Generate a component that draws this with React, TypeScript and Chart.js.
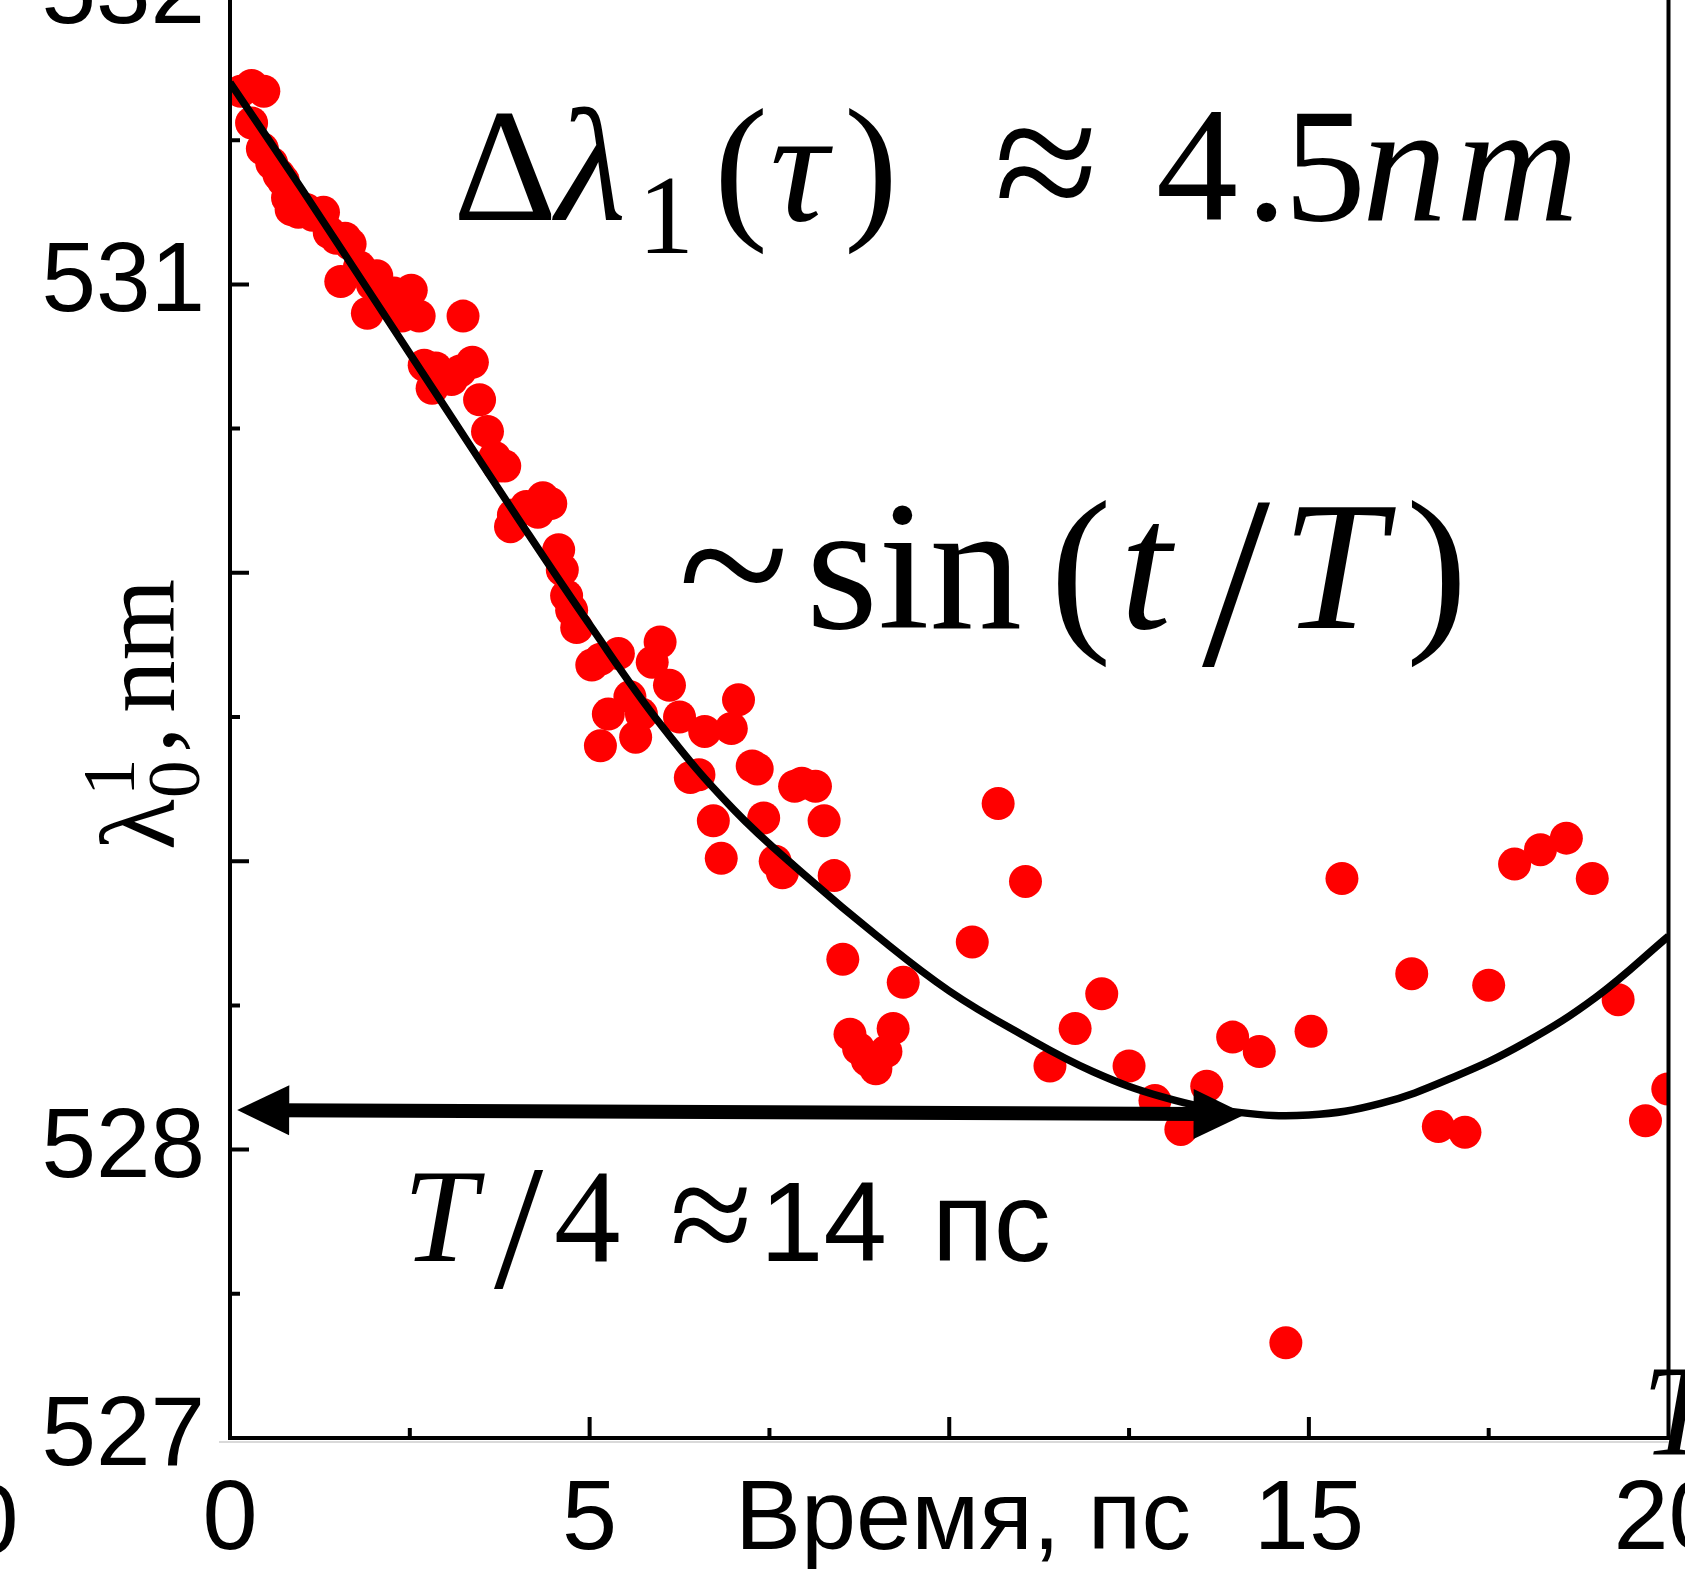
import React, { useEffect, useRef } from 'react';
import { Chart, registerables } from 'chart.js';

Chart.register(...registerables);

// ---- data ----
const timePs = [
  0.15, 0.30, 0.47, 0.30, 0.45, 0.58, 0.68, 0.74, 0.80, 0.85, 0.95, 1.06, 1.15, 1.30, 1.38, 1.48, 1.60, 1.67,
  1.54, 1.80, 1.91, 1.98, 2.04, 2.12, 2.20, 2.28, 2.39, 2.52, 2.63, 3.24, 2.70, 2.86, 2.95, 2.81, 3.08, 3.20,
  3.37, 3.47, 3.58, 3.68, 3.74, 3.82, 3.90, 3.94, 4.12, 4.28, 4.35, 4.46, 4.57, 4.62, 4.68, 4.75, 4.82,
  5.03, 5.15, 5.40, 5.98, 5.87, 6.11, 5.56, 5.26, 5.72, 5.15, 5.64, 6.25, 6.60, 6.97, 7.07, 6.40, 6.52,
  7.26, 7.33, 7.85, 7.95, 8.14, 6.72, 7.42, 8.26, 6.83, 7.58, 7.68, 8.40,
  8.52, 9.36, 10.32, 10.68, 11.06, 8.62, 8.74, 8.86, 8.98, 9.12, 9.22,
  11.40, 11.75, 12.12, 12.50, 12.86, 13.22, 13.58, 13.94, 14.31, 14.68, 15.03, 15.46, 16.43, 16.80,
  17.17, 17.50, 17.86, 18.22, 18.58, 18.94, 19.30, 19.68, 19.99,
];
const lambdaNm = [
  531.67, 531.69, 531.67, 531.56, 531.47, 531.42, 531.38, 531.36, 531.30, 531.26, 531.25, 531.26, 531.24, 531.25, 531.18, 531.16, 531.16, 531.14,
  531.01, 531.06, 530.90, 531.00, 531.03, 530.98, 530.95, 530.97, 530.89, 530.98, 530.89, 530.89, 530.72, 530.71, 530.68, 530.64, 530.67, 530.70,
  530.73, 530.60, 530.49, 530.40, 530.37, 530.37, 530.16, 530.20, 530.23, 530.21, 530.26, 530.24, 530.08, 530.01, 529.92, 529.87, 529.81,
  529.68, 529.70, 529.72, 529.76, 529.69, 529.61, 529.57, 529.51, 529.51, 529.40, 529.43, 529.50, 529.45, 529.46, 529.56, 529.29, 529.30,
  529.33, 529.32, 529.26, 529.27, 529.26, 529.14, 529.15, 529.14, 529.01, 529.00, 528.96, 528.95,
  528.66, 528.58, 528.72, 529.20, 528.93, 528.40, 528.35, 528.31, 528.28, 528.34, 528.42,
  528.29, 528.42, 528.54, 528.29, 528.17, 528.07, 528.22, 528.39, 528.34, 527.33, 528.41, 528.94, 528.61, 528.08,
  528.06, 528.57, 528.99, 529.04, 529.08, 528.94, 528.52, 528.10, 528.21,
];
const fitTime = [0, 1, 2, 3, 4, 5, 6, 7, 8, 9, 10, 11, 12, 13, 14, 15, 16, 17, 18, 19, 20];
const fitLambda = [
  531.70, 531.33, 530.95, 530.57, 530.19, 529.82, 529.47, 529.18, 528.95, 528.74, 528.55,
  528.40, 528.27, 528.18, 528.13, 528.12, 528.16, 528.25, 528.37, 528.53, 528.74,
];
const xTickLabels: Record<number, string> = { 0: '0', 5: '5', 10: ' Время, пс', 15: '15', 20: '20' };
const yTickLabels: Record<number, string> = { 527: '527', 528: '528', 531: '531', 532: '532' };
const xMajorTicks = [5, 10, 15];
const xMinorTicks = [2.5, 7.5, 12.5, 17.5];
const yMajorTicks = [528, 529, 530, 531];
const yMinorTicks = [527.5, 528.5, 529.5, 530.5, 531.5];
const arrowTime = [0.1, 14.12];
const arrowLambda = [528.137, 528.123];

// ---- layout ----
const W = 1685;
const H = 1640;
const OFF_Y = 64; // canvas top sits 64px above the page top
const SERIF = '"Liberation Serif", "DejaVu Serif", serif';
const SANS = '"Liberation Sans", Arial, sans-serif';

const decorPlugin = {
  id: 'decor',
  afterDatasetsDraw(chart: any) {
    const ctx: CanvasRenderingContext2D = chart.ctx;
    const xs = chart.scales.x;
    const ys = chart.scales.y;
    const a = chart.chartArea;
    ctx.save();
    ctx.fillStyle = '#000';
    ctx.lineCap = 'butt';

    // faint grey line under the bottom axis
    ctx.strokeStyle = '#d9d9d9';
    ctx.lineWidth = 2;
    ctx.beginPath();
    ctx.moveTo(219, a.bottom + 4);
    ctx.lineTo(a.right, a.bottom + 4);
    ctx.stroke();

    // axes frame
    ctx.strokeStyle = '#000';
    ctx.lineWidth = 4;
    ctx.beginPath();
    ctx.moveTo(a.left, 0);
    ctx.lineTo(a.left, a.bottom + 2);
    ctx.moveTo(a.left - 2, a.bottom);
    ctx.lineTo(a.right + 2, a.bottom);
    ctx.moveTo(a.right, 0);
    ctx.lineTo(a.right, a.bottom + 2);
    ctx.stroke();

    // ticks (inward)
    ctx.beginPath();
    for (const v of yMajorTicks) {
      const p = ys.getPixelForValue(v);
      ctx.moveTo(a.left, p);
      ctx.lineTo(a.left + 19, p);
    }
    for (const v of yMinorTicks) {
      const p = ys.getPixelForValue(v);
      ctx.moveTo(a.left, p);
      ctx.lineTo(a.left + 10, p);
    }
    for (const v of xMajorTicks) {
      const p = xs.getPixelForValue(v);
      ctx.moveTo(p, a.bottom);
      ctx.lineTo(p, a.bottom - 21);
    }
    for (const v of xMinorTicks) {
      const p = xs.getPixelForValue(v);
      ctx.moveTo(p, a.bottom);
      ctx.lineTo(p, a.bottom - 10);
    }
    ctx.stroke();

    // double-headed arrow
    const x1 = xs.getPixelForValue(arrowTime[0]);
    const y1 = ys.getPixelForValue(arrowLambda[0]);
    const x2 = xs.getPixelForValue(arrowTime[1]);
    const y2 = ys.getPixelForValue(arrowLambda[1]);
    const len = Math.hypot(x2 - x1, y2 - y1);
    const ux = (x2 - x1) / len;
    const uy = (y2 - y1) / len;
    const nx = -uy;
    const ny = ux;
    const L = 52;
    const HW = 25;
    ctx.lineWidth = 14;
    ctx.beginPath();
    ctx.moveTo(x1 + ux * L * 0.8, y1 + uy * L * 0.8);
    ctx.lineTo(x2 - ux * L * 0.8, y2 - uy * L * 0.8);
    ctx.stroke();
    const head = (tx: number, ty: number, dx: number, dy: number) => {
      ctx.beginPath();
      ctx.moveTo(tx, ty);
      ctx.lineTo(tx - dx * L + nx * HW, ty - dy * L + ny * HW);
      ctx.lineTo(tx - dx * L - nx * HW, ty - dy * L - ny * HW);
      ctx.closePath();
      ctx.fill();
    };
    head(x2, y2, ux, uy);
    head(x1, y1, -ux, -uy);

    // text helpers
    ctx.textBaseline = 'alphabetic';
    ctx.textAlign = 'left';
    const put = (t: string, font: string, x: number, y: number) => {
      ctx.font = font;
      ctx.fillText(t, x, y + OFF_Y);
    };

    // Δλ1(τ) ≈ 4.5nm
    put('Δ', `162px ${SERIF}`, 453, 220);
    put('λ', `italic 162px ${SERIF}`, 556, 220);
    put('1', `112px ${SERIF}`, 638, 253);
    put('(', `162px ${SERIF}`, 714, 220);
    put('τ', `italic 162px ${SERIF}`, 770, 220);
    put(')', `162px ${SERIF}`, 844, 220);
    put('≈', `190px ${SERIF}`, 994, 226);
    put('4', `164px ${SERIF}`, 1156, 220);
    put('.', `164px ${SERIF}`, 1246, 220);
    put('5', `164px ${SERIF}`, 1284, 220);
    put('n', `italic 170px ${SERIF}`, 1362, 220);
    put('m', `italic 170px ${SERIF}`, 1456, 220);

    // ~sin(t/T)
    put('~', `205px ${SERIF}`, 678, 633);
    put('sin', `185px ${SERIF}`, 806, 628);
    put('(', `185px ${SERIF}`, 1050, 628);
    put('t', `italic 185px ${SERIF}`, 1120, 628);
    put('/', `245px ${SERIF}`, 1202, 665);
    put('T', `italic 185px ${SERIF}`, 1282, 628);
    put(')', `185px ${SERIF}`, 1406, 628);

    // T/4 ≈14 пс
    put('T', `italic 133px ${SERIF}`, 403, 1261);
    put('/', `177px ${SERIF}`, 494, 1287);
    put('4', `133px ${SERIF}`, 554, 1261);
    put('≈', `150px ${SERIF}`, 670, 1265);
    put('14', `114px ${SANS}`, 760, 1261);
    put('пс', `114px ${SANS}`, 932, 1261);

    // stray glyphs cut by the frame edges
    put('0', `98px ${SANS}`, -36, 1553);
    put('T', `italic 130px ${SERIF}`, 1642, 1454);

    // y-axis title λ0^1, nm (rotated)
    ctx.save();
    ctx.translate(174, 850 + OFF_Y);
    ctx.rotate(-Math.PI / 2);
    ctx.font = `105px ${SERIF}`;
    ctx.fillText('λ', 0, 0);
    ctx.font = `75px ${SERIF}`;
    ctx.fillText('0', 52, 25);
    ctx.fillText('1', 54, -40);
    ctx.font = `105px ${SERIF}`;
    ctx.fillText(',', 97, 0);
    ctx.fillText('nm', 137, 0);
    ctx.restore();

    ctx.restore();
  },
};

export default function App() {
  const ref = useRef<HTMLCanvasElement | null>(null);
  useEffect(() => {
    document.documentElement.style.overflow = 'hidden';
    document.body.style.margin = '0';
    document.body.style.overflow = 'hidden';
    const canvas = ref.current;
    if (!canvas) return;
    const points = timePs.map((t, i) => ({ x: t, y: lambdaNm[i] }));
    const fit = fitTime.map((t, i) => ({ x: t, y: fitLambda[i] }));
    const chart = new Chart(canvas, {
      type: 'scatter',
      data: {
        datasets: [
          {
            type: 'line',
            data: fit,
            borderColor: '#000',
            borderWidth: 7.5,
            pointRadius: 0,
            fill: false,
            tension: 0.4,
            order: 0,
            clip: 0,
          } as any,
          {
            type: 'scatter',
            data: points,
            backgroundColor: '#ff0000',
            borderWidth: 0,
            pointRadius: 16.5,
            pointHoverRadius: 16.5,
            order: 1,
            clip: 0,
          } as any,
        ],
      },
      options: {
        animation: false,
        responsive: false,
        devicePixelRatio: 1,
        events: [],
        layout: { padding: { top: 60, right: 14, left: 0, bottom: 0 } },
        plugins: { legend: { display: false }, tooltip: { enabled: false } },
        scales: {
          x: {
            type: 'linear',
            position: 'bottom',
            min: 0,
            max: 20,
            grid: { display: false, drawTicks: false },
            border: { display: false },
            ticks: {
              stepSize: 5,
              autoSkip: false,
              maxRotation: 0,
              minRotation: 0,
              padding: 24,
              color: '#000',
              font: { family: SANS, size: 99 },
              callback: (v: any) => (xTickLabels[Number(v)] ?? ''),
            },
            afterFit: (s: any) => {
              s.height = 138;
              s.paddingLeft = 0;
              s.paddingRight = 0;
            },
          },
          y: {
            type: 'linear',
            position: 'left',
            min: 527,
            max: 532,
            grid: { display: false, drawTicks: false },
            border: { display: false },
            ticks: {
              stepSize: 1,
              autoSkip: false,
              padding: 25,
              color: '#000',
              font: { family: SANS, size: 98 },
              callback: (v: any) => (yTickLabels[Math.round(Number(v))] ?? ''),
            },
            afterFit: (s: any) => {
              s.width = 230;
              s.paddingTop = 0;
              s.paddingBottom = 0;
            },
          },
        },
      } as any,
      plugins: [decorPlugin],
    });
    return () => chart.destroy();
  }, []);
  return (
    <div style={{ position: 'absolute', left: 0, top: -OFF_Y, width: W, height: H }}>
      <canvas ref={ref} width={W} height={H} style={{ width: W, height: H, display: 'block' }} />
    </div>
  );
}
